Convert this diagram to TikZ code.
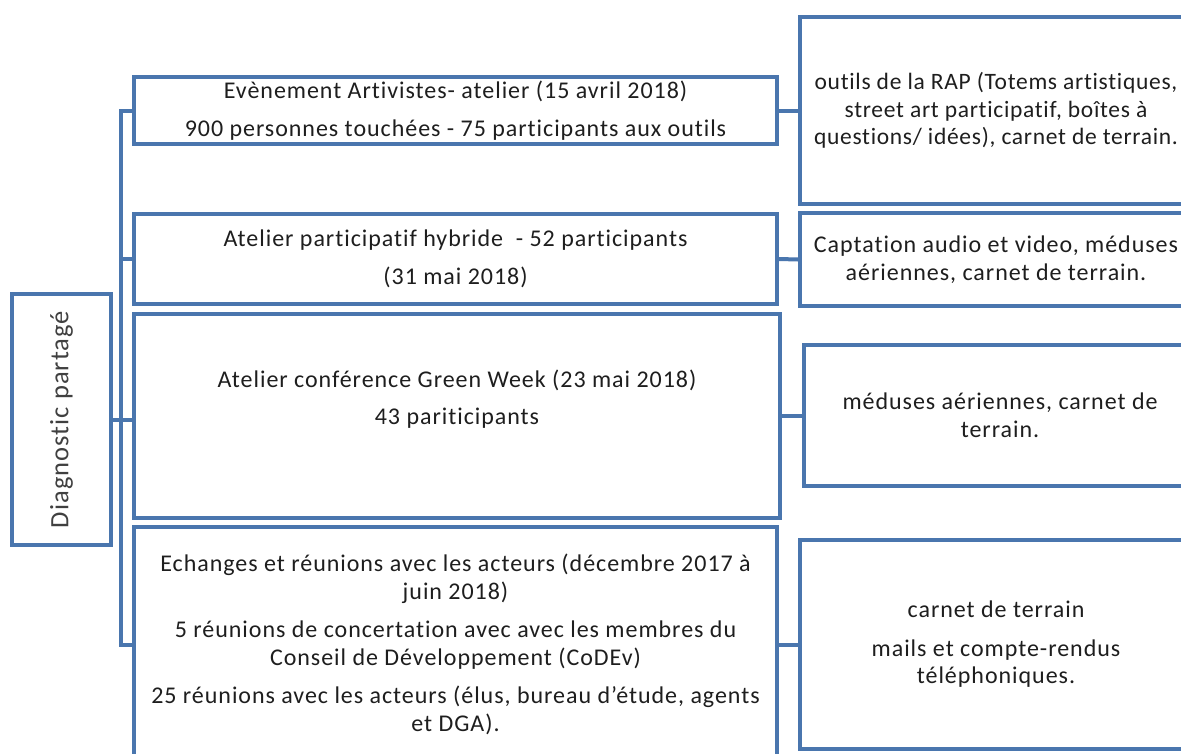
\documentclass[tikz,border=0pt]{standalone}
\usepackage{fontspec}
\setmainfont[Ligatures=NoCommon,LetterSpace=4]{Carlito}
\definecolor{boxblue}{RGB}{74,118,174}
\definecolor{txt}{RGB}{30,30,30}
\begin{document}
\begin{tikzpicture}[x=1pt,y=-1pt,
  box/.style={draw=boxblue,line width=4pt,rectangle,inner sep=0pt,align=center,text=txt,
    font=\fontsize{24}{27.5}\selectfont, anchor=north west},
  conn/.style={draw=boxblue,line width=4pt}]
\useasboundingbox (0,0) rectangle (1181,753);
\clip (0,0) rectangle (1181,753);
\fill[white] (0,0) rectangle (1181,753);
% left box
\node[box,minimum width=99pt,minimum height=251pt] (diag) at (10,292) {};
\node[rotate=90,text=txt!85,font=\fontsize{26.5}{30}\selectfont] (diagt) at (diag.center) {Diagnostic partagé};
% middle column
\node[box,minimum width=643pt,minimum height=67pt] (m1) at (132,75)
  {Evènement Artivistes- atelier (15 avril 2018)\\[11pt]900 personnes touchées - 75 participants aux outils};
\node[box,minimum width=643pt,minimum height=90pt] (m2) at (132,212)
  {Atelier participatif hybride \ - 52 participants\\[11pt](31 mai 2018)};
\node[box,minimum width=646pt,minimum height=204pt] (m3) at (132,312)
  {Atelier conférence Green Week (23 mai 2018)\\[10pt]43 pariticipants\\[10pt]\mbox{}};
\node[box,minimum width=643pt,minimum height=235pt] (m4) at (132,525)
  {Echanges et réunions avec les acteurs (décembre 2017 à\\juin 2018)\\[11pt]5 réunions de concertation avec avec les membres du\\Conseil de Développement (CoDEv)\\[11pt]25 réunions avec les acteurs (élus, bureau d’étude, agents\\et DGA).};
% right column
\node[box,minimum width=392pt,minimum height=187pt,font=\fontsize{23.5}{27.5}\selectfont\addfontfeatures{LetterSpace=3}] (r1) at (798,15)
  {outils de la RAP (Totems artistiques,\\street art participatif, boîtes à\\questions/ idées), carnet de terrain.};
\node[box,minimum width=392pt,minimum height=93pt] (r2) at (798,211)
  {Captation audio et video, méduses\\aériennes, carnet de terrain.};
\node[box,minimum width=392pt,minimum height=141pt] (r3) at (802,343)
  {méduses aériennes, carnet de\\terrain.};
\node[box,minimum width=392pt,minimum height=209pt] (r4) at (798,538)
  {carnet de terrain\\[11pt]mails et compte-rendus\\téléphoniques.};
% connectors
\coordinate (tr) at (121,0);
\draw[conn] (m1.west) -- (m1.west -| tr) -- (m4.west -| tr) -- (m4.west);
\draw[conn] (m2.west) -- (m2.west -| tr);
\draw[conn] (diag.east) -- (diag.east -| m3.west);
\draw[conn] (m1.east) -- (r1.west);
\draw[conn] (m2.east) -- (r2.west);
\draw[conn] (m3.east) -- (m3.east -| r3.west);
\draw[conn] (m4.east) -- (r4.west);
\end{tikzpicture}
\end{document}
